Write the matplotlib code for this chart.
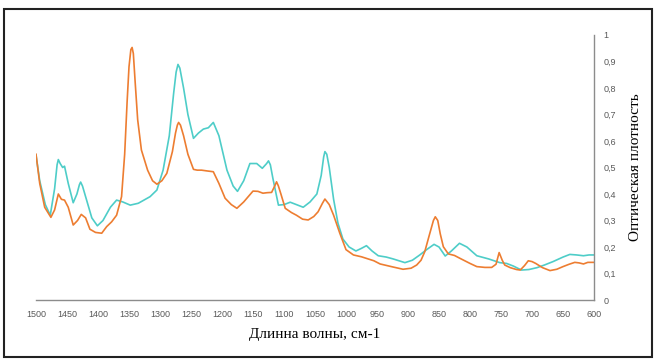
import matplotlib
matplotlib.use("Agg")
import matplotlib.pyplot as plt
from matplotlib.patches import Rectangle
from matplotlib.ticker import FuncFormatter

# cyan series (wavenumber, optical density)
cyan_x = [1500, 1494, 1485, 1477, 1470, 1466, 1464, 1461, 1457, 1454, 1448, 1440, 1434, 1430,
          1428, 1425, 1420, 1410, 1401, 1392, 1380, 1370, 1360, 1348, 1335, 1316, 1305, 1295,
          1285, 1278, 1274, 1271, 1268, 1262, 1255, 1246, 1238, 1230, 1222, 1214, 1205, 1192,
          1182, 1175, 1165, 1155, 1144, 1135, 1128, 1125, 1122, 1118, 1109, 1100, 1090, 1080,
          1069, 1058, 1047, 1040, 1036, 1034, 1031, 1027, 1020, 1013, 1005, 995, 984, 975,
          967, 958, 948, 935, 924, 905, 893, 881, 870, 858, 850, 840, 830, 817,
          805, 789, 770, 752, 741, 730, 717, 705, 692, 680, 666, 650, 639, 628,
          617, 608, 600]
cyan_y = [0.547, 0.45, 0.36, 0.32, 0.42, 0.51, 0.53, 0.515, 0.50, 0.505, 0.44, 0.367, 0.40, 0.435,
          0.445, 0.43, 0.39, 0.31, 0.28, 0.30, 0.35, 0.377, 0.37, 0.358, 0.365, 0.39, 0.415, 0.49,
          0.62, 0.78, 0.86, 0.889, 0.875, 0.80, 0.70, 0.61, 0.63, 0.645, 0.65, 0.67, 0.62, 0.49,
          0.43, 0.41, 0.45, 0.515, 0.515, 0.497, 0.515, 0.525, 0.51, 0.46, 0.358, 0.36, 0.369, 0.36,
          0.35, 0.37, 0.40, 0.47, 0.54, 0.56, 0.55, 0.50, 0.38, 0.29, 0.23, 0.20, 0.185, 0.195,
          0.205, 0.185, 0.167, 0.162, 0.155, 0.141, 0.15, 0.17, 0.19, 0.21, 0.20, 0.166,
          0.185, 0.214, 0.20, 0.167, 0.155, 0.141, 0.138, 0.128, 0.113, 0.115, 0.122, 0.132,
          0.145, 0.162, 0.172, 0.17, 0.167, 0.17, 0.17]

# orange series
orange_x = [1500, 1494, 1486, 1476, 1470, 1464, 1459, 1454, 1448, 1440, 1433, 1427,
            1420, 1413, 1404, 1394, 1386, 1378, 1370, 1362, 1357, 1353, 1350, 1347, 1345,
            1343, 1340, 1336, 1330, 1320, 1312, 1305, 1297, 1289, 1280, 1275, 1272, 1270,
            1267, 1262, 1255, 1246, 1240, 1233, 1224, 1214, 1205, 1195, 1185, 1176, 1165,
            1150, 1142, 1134, 1127, 1120, 1115, 1112, 1109, 1105, 1098, 1088, 1080, 1070, 1061,
            1052, 1045, 1038, 1034, 1027, 1020, 1010, 1000, 988, 975, 967, 955, 945, 925, 908,
            895, 886, 879, 873, 865, 859, 856, 852, 848, 843, 835, 825, 816, 800, 789, 776, 765,
            758, 753, 748, 744, 735, 725, 719, 712, 706, 700, 694, 683, 671, 660, 650,
            640, 631, 624, 617, 610, 600]
orange_y = [0.55, 0.44, 0.35, 0.312, 0.34, 0.40, 0.38, 0.377, 0.35, 0.283, 0.30, 0.323,
            0.31, 0.267, 0.255, 0.252, 0.277, 0.295, 0.32, 0.39, 0.55, 0.75, 0.88, 0.945, 0.953,
            0.93, 0.82, 0.68, 0.566, 0.49, 0.45, 0.437, 0.45, 0.478, 0.56, 0.63, 0.66, 0.67,
            0.66, 0.62, 0.55, 0.493, 0.49, 0.49, 0.487, 0.484, 0.44, 0.384, 0.36, 0.346, 0.37,
            0.411, 0.41, 0.403, 0.405, 0.406, 0.43, 0.446, 0.43, 0.40, 0.346, 0.33, 0.32, 0.305, 0.302,
            0.315, 0.333, 0.365, 0.381, 0.36, 0.32, 0.252, 0.19, 0.17, 0.163, 0.157, 0.148, 0.136, 0.125, 0.116,
            0.12, 0.132, 0.15, 0.182, 0.25, 0.30, 0.314, 0.30, 0.25, 0.201, 0.174, 0.168, 0.157, 0.138, 0.126, 0.123, 0.123,
            0.135, 0.179, 0.15, 0.132, 0.122, 0.115, 0.113, 0.13, 0.148, 0.145, 0.138, 0.122, 0.111, 0.116, 0.126,
            0.135, 0.142, 0.14, 0.136, 0.142, 0.142]

x_ticks = list(range(1500, 550, -50))
y_ticks = [i / 10 for i in range(11)]

fig = plt.figure(figsize=(6.54, 3.6), dpi=100)
fig.patch.set_facecolor('white')

# outer frame around the chart
fig.patches.append(Rectangle((4 / 654, 3 / 360), 648 / 654, 348 / 360,
                             transform=fig.transFigure, fill=False,
                             edgecolor='#222222', linewidth=1.5))

ax = fig.add_axes([36 / 654, 60 / 360, 558 / 654, 265 / 360])
ax.plot(cyan_x, cyan_y, color='#4ECDC8', linewidth=1.2, solid_joinstyle='round')
ax.plot(orange_x, orange_y, color='#ED7D31', linewidth=1.2, solid_joinstyle='round')

ax.set_xlim(1500, 600)
ax.set_ylim(0, 1)
ax.set_xticks(x_ticks)
ax.set_yticks(y_ticks)
ax.yaxis.tick_right()
ax.yaxis.set_label_position('right')
ax.yaxis.set_major_formatter(FuncFormatter(lambda v, p: f'{v:g}'.replace('.', ',')))

for s in ['top', 'left']:
    ax.spines[s].set_visible(False)
for s in ['bottom', 'right']:
    ax.spines[s].set_color('#8c8c8c')
    ax.spines[s].set_linewidth(1.0)

ax.tick_params(axis='both', length=0, labelsize=6.5, labelcolor='#595959')
ax.tick_params(axis='x', pad=7)
ax.tick_params(axis='y', pad=7)
for lbl in ax.get_xticklabels() + ax.get_yticklabels():
    lbl.set_fontfamily('Liberation Sans')

ax.set_xlabel('Длинна волны, см-1', fontsize=11, family='Liberation Serif', labelpad=7)
ax.set_ylabel('Оптическая плотность', fontsize=11, family='Liberation Serif',
              labelpad=9, rotation=90)

fig.savefig('out.png', dpi=100)
